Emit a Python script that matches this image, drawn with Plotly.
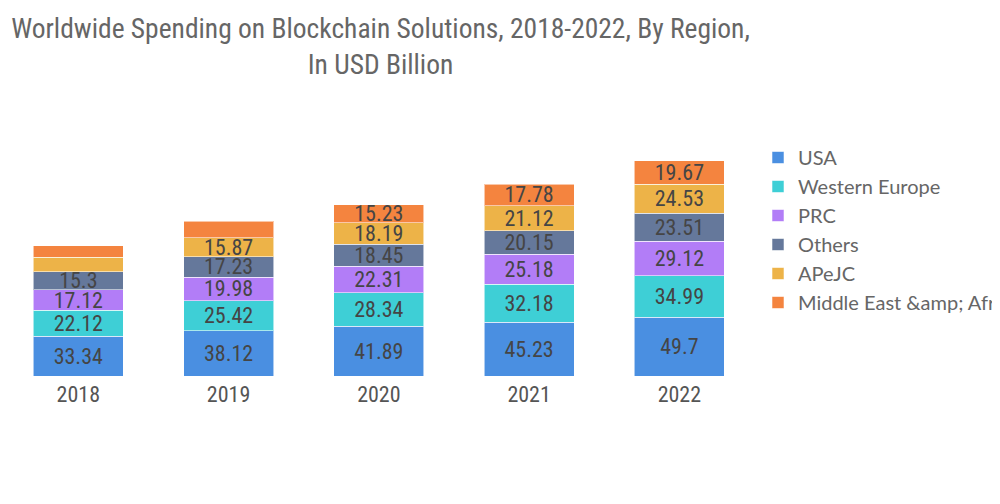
import plotly.graph_objects as go

years = ["2018", "2019", "2020", "2021", "2022"]
series_names = ["USA", "Western Europe", "PRC", "Others", "APeJC", "Middle East &amp;amp; Africa"]
usa = [33.34, 38.12, 41.89, 45.23, 49.7]
western_europe = [22.12, 25.42, 28.34, 32.18, 34.99]
prc = [17.12, 19.98, 22.31, 25.18, 29.12]
others = [15.3, 17.23, 18.45, 20.15, 23.51]
apejc = [12.2, 15.87, 18.19, 21.12, 24.53]
mea = [9.8, 14.1, 15.23, 17.78, 19.67]
colors = ["#4A8FE1", "#3ECFD6", "#B27DF7", "#65789B", "#EDB348", "#F4843F"]
label_min = 15  # segments smaller than this carry no label

NARROW = "Liberation Sans Narrow, Arial Narrow, Roboto Condensed, sans-serif"

fig = go.Figure()
for name, vals, col in zip(series_names, [usa, western_europe, prc, others, apejc, mea], colors):
    fig.add_trace(go.Bar(
        x=years, y=vals, name=name,
        marker=dict(color=col, line=dict(color="rgba(255,255,255,0.55)", width=1)),
        text=[f"{v:g}" if v >= label_min else "" for v in vals],
        textposition="inside", insidetextanchor="middle", textangle=0,
        constraintext="none",
        insidetextfont=dict(family=NARROW, size=22, color="#454545"),
        hoverinfo="skip",
    ))

fig.update_layout(
    barmode="stack",
    bargap=0.4,
    width=1000, height=504,
    margin=dict(l=0, r=255, t=131, b=136, autoexpand=False),
    paper_bgcolor="white", plot_bgcolor="white",
    title=dict(
        text="Worldwide Spending on Blockchain Solutions, 2018-2022, By Region,<br>In USD Billion",
        x=0.5, xref="paper", xanchor="center",
        y=1 - 30 / 504, yref="container", yanchor="top",
        font=dict(family=NARROW, size=27.5, color="#666666"),
    ),
    xaxis=dict(showgrid=False, showline=False, zeroline=False, ticks="",
               range=[-0.468, 4.49], ticklabelstandoff=3,
               tickfont=dict(family=NARROW, size=22, color="#555555")),
    yaxis=dict(visible=False, range=[0, 200]),
    legend=dict(
        xref="container", yref="container",
        x=0.75, xanchor="left", y=1 - 130 / 504, yanchor="top",
        font=dict(family="Lato, sans-serif", size=20, color="#666666"),
        traceorder="normal", itemclick=False,
    ),
    showlegend=True,
)

fig.write_html("out.html")
